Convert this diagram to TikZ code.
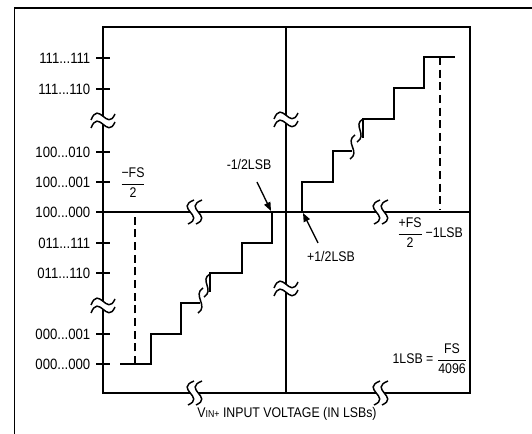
\documentclass[tikz,border=0pt]{standalone}
\usepackage{fontspec}
\setmainfont{Liberation Sans}[FakeStretch=0.88]
\usetikzlibrary{arrows.meta}
\newcommand\stfrac[2]{$\displaystyle{\mbox{#1}\above 0.8pt\mbox{#2}}$}
\begin{document}
\begin{tikzpicture}[x=0.75pt,y=-0.75pt,line width=1.1pt,
  lbl/.style={font=\fontsize{10.5}{12}\selectfont,inner sep=0pt},
  ylab/.style={font=\fontsize{11.2}{12}\selectfont,inner sep=0pt,anchor=east},
  tickln/.style={line width=1.1pt},
  dashln/.style={dash pattern=on 6pt off 3.5pt},
  arr/.style={line width=1pt,-{Triangle[length=6.5pt,width=5pt]}},
  brk/.pic={
    \fill[white] (-12,0) .. controls (-4,-20) and (4,12) .. (12,-6) -- (12,2) .. controls (4,20) and (-4,-12) .. (-12,8) -- cycle;
    \draw (-12,0) .. controls (-4,-20) and (4,12) .. (12,-6);
    \draw (-12,8) .. controls (-4,-12) and (4,20) .. (12,2);
  }]
\useasboundingbox (0,0) rectangle (532,434);
% outer frame (partial)
\coordinate (oTL) at (14.5,8);
\coordinate (oTR) at (532,8);
\coordinate (oBL) at (14.5,434);
\draw (oBL) -- (oTL) -- (oTR);
% inner box
\coordinate (bTL) at (103,27);
\coordinate (bTR) at (470,27);
\coordinate (bBR) at (470,393);
\coordinate (bBL) at (103,393);
\draw (bTL) -- (bTR) -- (bBR) -- (bBL) -- cycle;
% axes
\coordinate (axL) at (103,212);
\coordinate (axR) at (470,212);
\coordinate (axT) at (286,27);
\coordinate (axB) at (286,393);
\draw (axL) -- (axR);
\draw (axT) -- (axB);
% ticks and labels
\node[ylab] (ya) at (91,58) {111...111};
\node[ylab] (yb) at (91,89) {111...110};
\node[ylab] (yc) at (91,152) {100...010};
\node[ylab] (yd) at (91,182) {100...001};
\node[ylab] (ye) at (91,212) {100...000};
\node[ylab] (yf) at (91,243) {011...111};
\node[ylab] (yg) at (91,273) {011...110};
\node[ylab] (yh) at (91,334) {000...001};
\node[ylab] (yi) at (91,364) {000...000};
\foreach \yy in {58,89,152,182,212,243,273,334,364}{
  \draw[tickln] (96,\yy) -- (110,\yy);
}
% lower staircase
\draw (120,364) -- (151,364) -- (151,334) -- (181,334) -- (181,303) -- (200,303);
\draw (203,288) .. controls (192,295) and (209,306) .. (198,313);
\draw (210,274) .. controls (199,280) and (215,290) .. (204,297);
\draw (210,292) -- (210,273) -- (242,273) -- (242,243) -- (272,243) -- (272,212);
\draw[dashln] (135,364) -- (135,215);
% upper staircase
\draw (302,212) -- (302,182) -- (333,182) -- (333,151) -- (352,151);
\draw (355,135) .. controls (344,142) and (361,152) .. (350,159);
\draw (363,119) .. controls (352,125) and (368,135) .. (357,142);
\draw (363,138) -- (363,119) -- (394,119) -- (394,88) -- (424,88) -- (424,57) -- (455,57);
\draw[dashln] (440,57) -- (440,210);
% axis breaks
\pic at (103,120) {brk};
\pic at (103,305) {brk};
\pic at (286,119) {brk};
\pic at (286,288) {brk};
\pic[rotate=90,xscale=-1] at (194,212) {brk};
\pic[rotate=90,xscale=-1] at (380,212) {brk};
\pic[rotate=90,xscale=-1] at (194,393) {brk};
\pic[rotate=90,xscale=-1] at (380,393) {brk};
% labels
\node[lbl] (mfs) at (133,183) {\stfrac{−FS}{2}};
\node[lbl] (pfs) at (430,233) {\stfrac{+FS}{2}\,−1LSB};
\node[lbl] (lsb) at (430,359) {1LSB = \stfrac{FS}{4096}};
\node[lbl,anchor=east] (mhalf) at (272,164) {-1/2LSB};
\node[lbl] (phalf) at (331,256) {+1/2LSB};
\coordinate (mA) at (257,182);
\coordinate (mB) at (271,211);
\coordinate (pA) at (318,243);
\coordinate (pB) at (303,213);
\draw[arr] (mA) -- (mB);
\draw[arr] (pA) -- (pB);
\node[lbl] (title) at (287,414) {V{\fontsize{7.5}{8}\selectfont IN+} INPUT VOLTAGE (IN LSBs)};
\end{tikzpicture}
\end{document}
